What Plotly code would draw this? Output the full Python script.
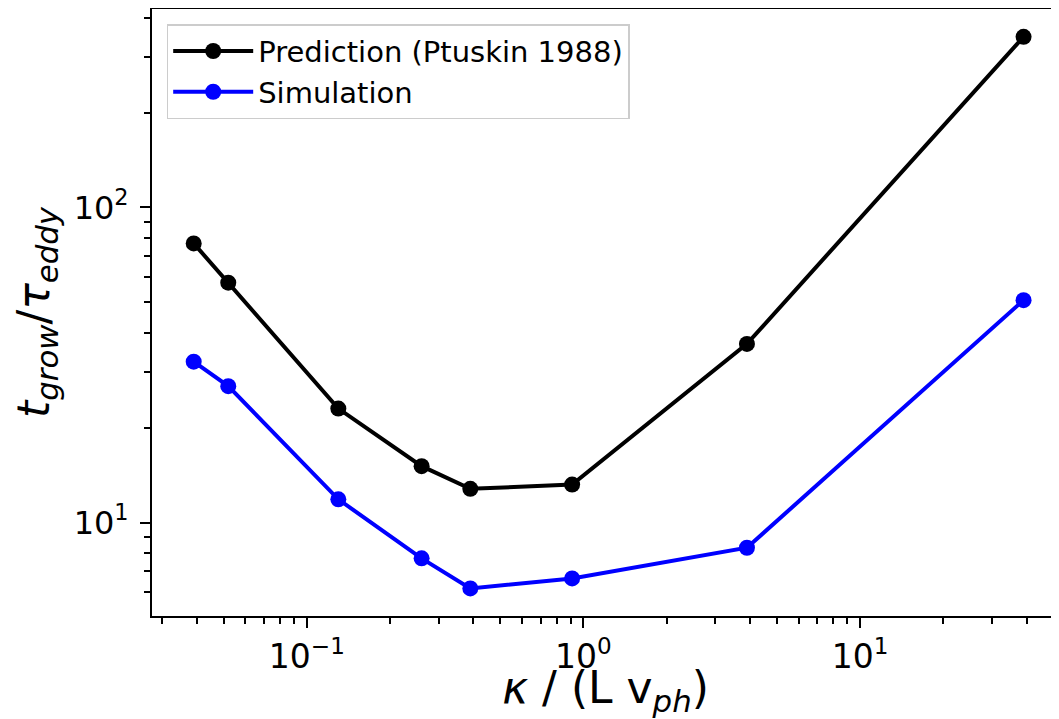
import plotly.graph_objects as go

kappa = [0.039, 0.052, 0.13, 0.26, 0.39, 0.91, 3.9, 39.0]
prediction = [76.9, 57.7, 23.0, 15.1, 12.8, 13.2, 36.9, 348.0]
simulation = [32.4, 27.1, 11.85, 7.70, 6.18, 6.65, 8.32, 50.8]
x_tickvals = [0.1, 1, 10]
x_ticktext = ["10<sup>−1</sup>", "10<sup>0</sup>", "10<sup>1</sup>"]
y_tickvals = [10, 100]
y_ticktext = ["10<sup>1</sup>", "10<sup>2</sup>"]

FONT = "DejaVu Sans"

fig = go.Figure()
fig.add_trace(go.Scatter(x=kappa, y=prediction, mode="lines+markers",
                         name="Prediction (Ptuskin 1988)",
                         line=dict(color="#000000", width=4),
                         marker=dict(color="#000000", size=16)))
fig.add_trace(go.Scatter(x=kappa, y=simulation, mode="lines+markers",
                         name="Simulation",
                         line=dict(color="#0000ff", width=4),
                         marker=dict(color="#0000ff", size=16)))

axis_common = dict(showgrid=False, zeroline=False, showline=True, linecolor="black",
                   linewidth=2, ticks="outside", ticklen=10, tickwidth=2, tickcolor="black",
                   automargin=False)

fig.update_xaxes(type="log", range=[-1.5597, 1.7192], mirror=True,
                 tickmode="array", tickvals=x_tickvals, ticktext=x_ticktext,
                 tickfont=dict(family=FONT, size=33, color="black"),
                 minor=dict(ticks="outside", ticklen=6, tickwidth=1.5, tickcolor="black", dtick="D1", showgrid=False),
                 title=dict(text="<i>κ</i> / (L v<sub><i>ph</i></sub>)", font=dict(family=FONT, size=44, color="black"), standoff=8),
                 **axis_common)
fig.update_yaxes(type="log", range=[0.7035, 2.6298], mirror=False,
                 tickmode="array", tickvals=y_tickvals, ticktext=y_ticktext,
                 tickfont=dict(family=FONT, size=32, color="black"), ticklabelstandoff=5,
                 minor=dict(ticks="outside", ticklen=6, tickwidth=1.5, tickcolor="black", dtick="D1", showgrid=False),
                 title=dict(text="<i>t</i><sub><i>grow</i></sub>/<i>τ</i><sub><i>eddy</i></sub>", font=dict(family=FONT, size=44, color="black"), standoff=14),
                 **axis_common)

fig.update_layout(width=1051, height=711,
                  margin=dict(l=144, r=0, t=1, b=103),
                  paper_bgcolor="white", plot_bgcolor="white",
                  font=dict(family=FONT, color="black"),
                  legend=dict(x=0.0162, y=0.975, xanchor="left", yanchor="top",
                              bgcolor="white", bordercolor="#cccccc", borderwidth=1.5,
                              itemwidth=80,
                              font=dict(family=FONT, size=29, color="black")),
                  showlegend=True)

fig.write_html("out.html")
